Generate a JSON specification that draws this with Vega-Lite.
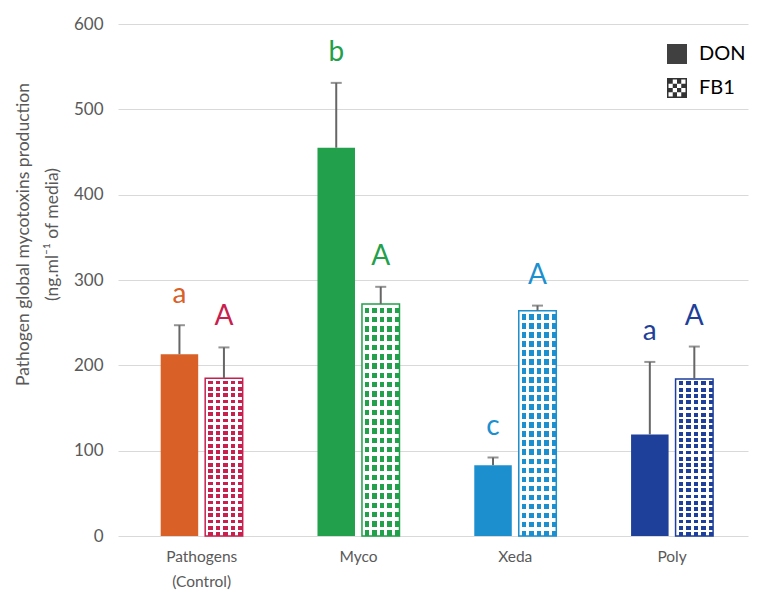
{
  "$schema": "https://vega.github.io/schema/vega-lite/v6.json",
  "width": 630,
  "height": 512,
  "autosize": "none",
  "padding": {"left": 118, "top": 24, "right": 9, "bottom": 60},
  "background": "white",
  "config": {
    "font": "Lato",
    "view": {"stroke": null},
    "axis": {"labelFont": "Lato", "titleFont": "Lato"}
  },
  "data": {
    "values": [
      {"cat": "Pathogens (Control)", "type": "DON", "series": "Pathogens DON", "value": 213, "upper": 247, "letter": "a"},
      {"cat": "Pathogens (Control)", "type": "FB1", "series": "Pathogens FB1", "value": 185, "upper": 221, "letter": "A"},
      {"cat": "Myco", "type": "DON", "series": "Myco DON", "value": 455, "upper": 531, "letter": "b"},
      {"cat": "Myco", "type": "FB1", "series": "Myco FB1", "value": 272, "upper": 292, "letter": "A"},
      {"cat": "Xeda", "type": "DON", "series": "Xeda DON", "value": 83, "upper": 92, "letter": "c"},
      {"cat": "Xeda", "type": "FB1", "series": "Xeda FB1", "value": 264, "upper": 270, "letter": "A"},
      {"cat": "Poly", "type": "DON", "series": "Poly DON", "value": 119, "upper": 204, "letter": "a"},
      {"cat": "Poly", "type": "FB1", "series": "Poly FB1", "value": 184, "upper": 222, "letter": "A"}
    ]
  },
  "encoding": {
    "x": {
      "field": "cat", "type": "nominal", "sort": null,
      "scale": {"paddingInner": 0.477, "paddingOuter": 0.2475, "align": 0.55},
      "axis": {"title": null, "domain": false, "ticks": false, "grid": false, "labelAngle": 0,
        "labelColor": "#595959", "labelFontSize": 15.5, "labelPadding": 13, "labelLineHeight": 25,
        "labelExpr": "datum.label == 'Pathogens (Control)' ? ['Pathogens', '(Control)'] : datum.label"}
    },
    "xOffset": {"field": "type", "type": "nominal", "scale": {"domain": ["DON", "FB1"], "paddingInner": 0.157, "paddingOuter": 0}},
    "y": {
      "type": "quantitative",
      "scale": {"domain": [0, 600], "nice": false},
      "axis": {"values": [0, 100, 200, 300, 400, 500, 600], "grid": true, "gridColor": "#d9d9d9", "gridWidth": 1,
        "domain": false, "ticks": false, "labelColor": "#595959", "labelFontSize": 17, "labelPadding": 15,
        "title": ["Pathogen global mycotoxins production", "(ng.ml⁻¹ of media)"],
        "titleColor": "#595959", "titleFontSize": 17.5, "titleFontWeight": "normal", "titleLineHeight": 29,
        "titleX": -86, "titleY": 210}
    }
  },
  "layer": [
    {
      "transform": [{"filter": "datum.type === 'DON'"}],
      "mark": {"type": "bar"},
      "encoding": {
        "y": {"field": "value", "type": "quantitative"},
        "fill": {"field": "series", "type": "nominal", "legend": null,
          "scale": {"domain": ["Pathogens DON", "Pathogens FB1", "Myco DON", "Myco FB1", "Xeda DON", "Xeda FB1", "Poly DON", "Poly FB1"],
            "range": ["#D96027", "#C8204E", "#22A04B", "#22A04B", "#1C8FCF", "#1C8FCF", "#1E3F9A", "#1E3F9A"]}},
        "opacity": {"field": "type", "type": "nominal",
          "scale": {"domain": ["DON"], "range": [1]},
          "legend": {"title": null, "orient": "none", "legendX": 549, "legendY": 20, "padding": 0,
            "symbolType": "square", "symbolSize": 400, "symbolFillColor": "#404040", "symbolStrokeWidth": 0, "symbolOpacity": 1,
            "labelFontSize": 20, "labelColor": "#000000", "labelOffset": 12, "labelFont": "Lato"}}
      }
    },
    {
      "transform": [{"filter": "datum.type === 'FB1'"}],
      "mark": {"type": "bar"},
      "encoding": {
        "y": {"field": "value", "type": "quantitative"},
        "fill": {"field": "series", "type": "nominal", "legend": null},
        "opacity": {"field": "type", "type": "nominal",
          "scale": {"domain": ["FB1"], "range": [1]},
          "legend": {"title": null, "orient": "none", "legendX": 549, "legendY": 54, "padding": 0,
            "symbolType": "M-1,-1H1V1H-1Z M-0.85,-0.85V0.85H0.85V-0.85Z M-0.85,-0.85h0.425v0.425h-0.425Z M0,-0.85h0.425v0.425h-0.425Z M-0.425,-0.425h0.425v0.425h-0.425Z M0.425,-0.425h0.425v0.425h-0.425Z M-0.85,0h0.425v0.425h-0.425Z M0,0h0.425v0.425h-0.425Z M-0.425,0.425h0.425v0.425h-0.425Z M0.425,0.425h0.425v0.425h-0.425Z",
            "symbolSize": 400, "symbolFillColor": "#333333", "symbolStrokeWidth": 0, "symbolOpacity": 1,
            "labelFontSize": 20, "labelColor": "#000000", "labelOffset": 12, "labelFont": "Lato"}}
      }
    },
    {
      "transform": [{"filter": "datum.type === 'FB1'"}],
      "mark": {"type": "bar",
        "fill": {"gradient": "linear", "x1": 0, "y1": 0, "x2": 0, "y2": 1,
          "stops": [
            {"offset": 0, "color": "#ffffff"}, {"offset": 0.016, "color": "#ffffff"}, {"offset": 0.016, "color": "rgba(255,255,255,0)"}, {"offset": 0.04, "color": "rgba(255,255,255,0)"},
            {"offset": 0.04, "color": "#ffffff"}, {"offset": 0.056, "color": "#ffffff"}, {"offset": 0.056, "color": "rgba(255,255,255,0)"}, {"offset": 0.08, "color": "rgba(255,255,255,0)"},
            {"offset": 0.08, "color": "#ffffff"}, {"offset": 0.096, "color": "#ffffff"}, {"offset": 0.096, "color": "rgba(255,255,255,0)"}, {"offset": 0.12, "color": "rgba(255,255,255,0)"},
            {"offset": 0.12, "color": "#ffffff"}, {"offset": 0.136, "color": "#ffffff"}, {"offset": 0.136, "color": "rgba(255,255,255,0)"}, {"offset": 0.16, "color": "rgba(255,255,255,0)"},
            {"offset": 0.16, "color": "#ffffff"}, {"offset": 0.176, "color": "#ffffff"}, {"offset": 0.176, "color": "rgba(255,255,255,0)"}, {"offset": 0.2, "color": "rgba(255,255,255,0)"},
            {"offset": 0.2, "color": "#ffffff"}, {"offset": 0.216, "color": "#ffffff"}, {"offset": 0.216, "color": "rgba(255,255,255,0)"}, {"offset": 0.24, "color": "rgba(255,255,255,0)"},
            {"offset": 0.24, "color": "#ffffff"}, {"offset": 0.256, "color": "#ffffff"}, {"offset": 0.256, "color": "rgba(255,255,255,0)"}, {"offset": 0.28, "color": "rgba(255,255,255,0)"},
            {"offset": 0.28, "color": "#ffffff"}, {"offset": 0.296, "color": "#ffffff"}, {"offset": 0.296, "color": "rgba(255,255,255,0)"}, {"offset": 0.32, "color": "rgba(255,255,255,0)"},
            {"offset": 0.32, "color": "#ffffff"}, {"offset": 0.336, "color": "#ffffff"}, {"offset": 0.336, "color": "rgba(255,255,255,0)"}, {"offset": 0.36, "color": "rgba(255,255,255,0)"},
            {"offset": 0.36, "color": "#ffffff"}, {"offset": 0.376, "color": "#ffffff"}, {"offset": 0.376, "color": "rgba(255,255,255,0)"}, {"offset": 0.4, "color": "rgba(255,255,255,0)"},
            {"offset": 0.4, "color": "#ffffff"}, {"offset": 0.416, "color": "#ffffff"}, {"offset": 0.416, "color": "rgba(255,255,255,0)"}, {"offset": 0.44, "color": "rgba(255,255,255,0)"},
            {"offset": 0.44, "color": "#ffffff"}, {"offset": 0.456, "color": "#ffffff"}, {"offset": 0.456, "color": "rgba(255,255,255,0)"}, {"offset": 0.48, "color": "rgba(255,255,255,0)"},
            {"offset": 0.48, "color": "#ffffff"}, {"offset": 0.496, "color": "#ffffff"}, {"offset": 0.496, "color": "rgba(255,255,255,0)"}, {"offset": 0.52, "color": "rgba(255,255,255,0)"},
            {"offset": 0.52, "color": "#ffffff"}, {"offset": 0.536, "color": "#ffffff"}, {"offset": 0.536, "color": "rgba(255,255,255,0)"}, {"offset": 0.56, "color": "rgba(255,255,255,0)"},
            {"offset": 0.56, "color": "#ffffff"}, {"offset": 0.576, "color": "#ffffff"}, {"offset": 0.576, "color": "rgba(255,255,255,0)"}, {"offset": 0.6, "color": "rgba(255,255,255,0)"},
            {"offset": 0.6, "color": "#ffffff"}, {"offset": 0.616, "color": "#ffffff"}, {"offset": 0.616, "color": "rgba(255,255,255,0)"}, {"offset": 0.64, "color": "rgba(255,255,255,0)"},
            {"offset": 0.64, "color": "#ffffff"}, {"offset": 0.656, "color": "#ffffff"}, {"offset": 0.656, "color": "rgba(255,255,255,0)"}, {"offset": 0.68, "color": "rgba(255,255,255,0)"},
            {"offset": 0.68, "color": "#ffffff"}, {"offset": 0.696, "color": "#ffffff"}, {"offset": 0.696, "color": "rgba(255,255,255,0)"}, {"offset": 0.72, "color": "rgba(255,255,255,0)"},
            {"offset": 0.72, "color": "#ffffff"}, {"offset": 0.736, "color": "#ffffff"}, {"offset": 0.736, "color": "rgba(255,255,255,0)"}, {"offset": 0.76, "color": "rgba(255,255,255,0)"},
            {"offset": 0.76, "color": "#ffffff"}, {"offset": 0.776, "color": "#ffffff"}, {"offset": 0.776, "color": "rgba(255,255,255,0)"}, {"offset": 0.8, "color": "rgba(255,255,255,0)"},
            {"offset": 0.8, "color": "#ffffff"}, {"offset": 0.816, "color": "#ffffff"}, {"offset": 0.816, "color": "rgba(255,255,255,0)"}, {"offset": 0.84, "color": "rgba(255,255,255,0)"},
            {"offset": 0.84, "color": "#ffffff"}, {"offset": 0.856, "color": "#ffffff"}, {"offset": 0.856, "color": "rgba(255,255,255,0)"}, {"offset": 0.88, "color": "rgba(255,255,255,0)"},
            {"offset": 0.88, "color": "#ffffff"}, {"offset": 0.896, "color": "#ffffff"}, {"offset": 0.896, "color": "rgba(255,255,255,0)"}, {"offset": 0.92, "color": "rgba(255,255,255,0)"},
            {"offset": 0.92, "color": "#ffffff"}, {"offset": 0.936, "color": "#ffffff"}, {"offset": 0.936, "color": "rgba(255,255,255,0)"}, {"offset": 0.96, "color": "rgba(255,255,255,0)"},
            {"offset": 0.96, "color": "#ffffff"}, {"offset": 0.976, "color": "#ffffff"}, {"offset": 0.976, "color": "rgba(255,255,255,0)"}, {"offset": 1, "color": "rgba(255,255,255,0)"}
          ]}},
      "encoding": {"y": {"field": "value", "type": "quantitative"}}
    },
    {
      "transform": [{"filter": "datum.type === 'FB1'"}],
      "mark": {"type": "bar", "strokeWidth": 1.5,
        "fill": {"gradient": "linear", "x1": 0, "y1": 0, "x2": 1, "y2": 0,
          "stops": [
            {"offset": 0, "color": "#ffffff"}, {"offset": 0.08, "color": "#ffffff"}, {"offset": 0.08, "color": "rgba(255,255,255,0)"}, {"offset": 0.2, "color": "rgba(255,255,255,0)"},
            {"offset": 0.2, "color": "#ffffff"}, {"offset": 0.28, "color": "#ffffff"}, {"offset": 0.28, "color": "rgba(255,255,255,0)"}, {"offset": 0.4, "color": "rgba(255,255,255,0)"},
            {"offset": 0.4, "color": "#ffffff"}, {"offset": 0.48, "color": "#ffffff"}, {"offset": 0.48, "color": "rgba(255,255,255,0)"}, {"offset": 0.6, "color": "rgba(255,255,255,0)"},
            {"offset": 0.6, "color": "#ffffff"}, {"offset": 0.68, "color": "#ffffff"}, {"offset": 0.68, "color": "rgba(255,255,255,0)"}, {"offset": 0.8, "color": "rgba(255,255,255,0)"},
            {"offset": 0.8, "color": "#ffffff"}, {"offset": 0.88, "color": "#ffffff"}, {"offset": 0.88, "color": "rgba(255,255,255,0)"}, {"offset": 1, "color": "rgba(255,255,255,0)"}
          ]}},
      "encoding": {
        "y": {"field": "value", "type": "quantitative"},
        "stroke": {"field": "series", "type": "nominal", "legend": null,
          "scale": {"domain": ["Pathogens DON", "Pathogens FB1", "Myco DON", "Myco FB1", "Xeda DON", "Xeda FB1", "Poly DON", "Poly FB1"],
            "range": ["#D96027", "#C8204E", "#22A04B", "#22A04B", "#1C8FCF", "#1C8FCF", "#1E3F9A", "#1E3F9A"]}}
      }
    },
    {
      "mark": {"type": "rule", "color": "#666666", "strokeWidth": 2},
      "encoding": {"y": {"field": "value", "type": "quantitative"}, "y2": {"field": "upper"}}
    },
    {
      "mark": {"type": "tick", "orient": "horizontal", "color": "#666666", "thickness": 2, "size": 11},
      "encoding": {"y": {"field": "upper", "type": "quantitative"}}
    },
    {
      "mark": {"type": "text", "fontSize": 28, "font": "Lato", "baseline": "alphabetic", "dy": -22},
      "encoding": {
        "y": {"field": "upper", "type": "quantitative"},
        "text": {"field": "letter"},
        "fill": {"field": "series", "type": "nominal", "legend": null}
      }
    }
  ],
  "resolve": {"scale": {"fill": "shared", "opacity": "independent"}, "legend": {"opacity": "independent"}}
}
